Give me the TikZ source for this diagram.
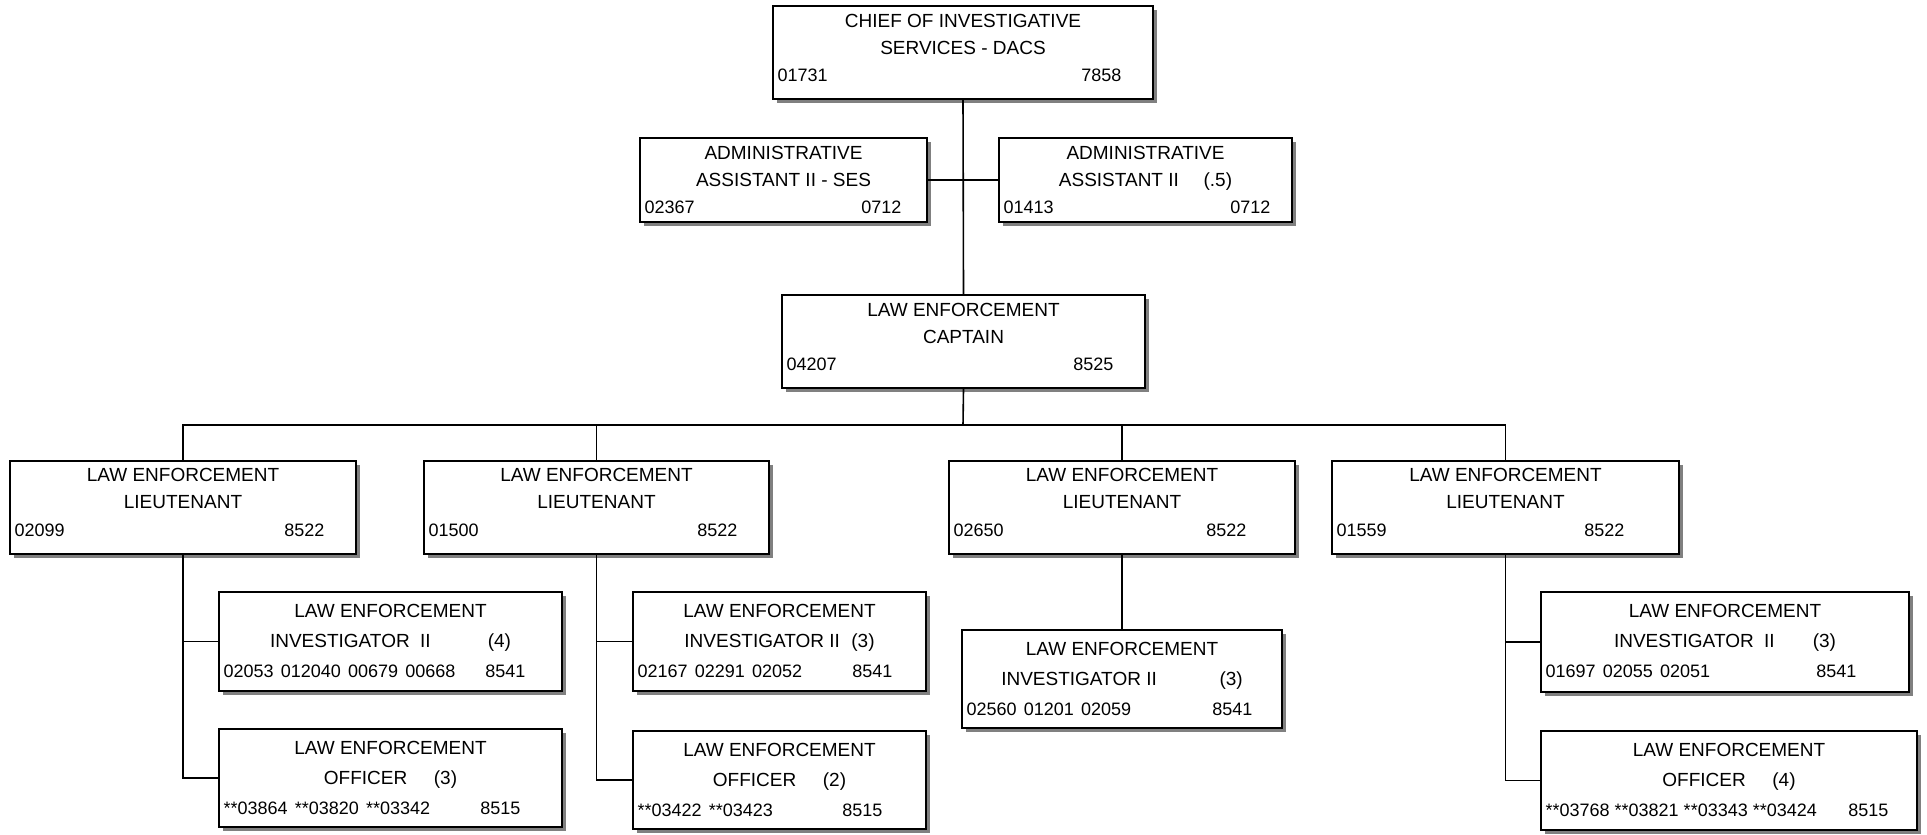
\documentclass[tikz,border=0pt]{standalone}
\usepackage{fontspec}
\setmainfont{Liberation Sans}
\usetikzlibrary{fit,shadows,calc}
\tikzset{
  boxst/.style={draw=black, line width=0.75pt, fill=white, inner sep=0pt,
    drop shadow={shadow xshift=2pt, shadow yshift=-2pt, fill=black!50, opacity=1}},
  ttl/.style={inner sep=0pt, font=\fontsize{9.5}{10}\selectfont, anchor=base},
  num/.style={inner sep=0pt, font=\fontsize{9}{10}\selectfont},
  conn/.style={line width=0.8pt, draw=black}
}
\newcommand\obox[7]{%
  \node[boxst, fit={(#2,#3)(#4,#5)}] (#1) {};
  \node[ttl] (#1-a) at ($(#1.north)+(0,\lA)$) {#6};
  \node[ttl] (#1-b) at ($(#1.north)+(0,\lB)$) {#7};
}
\newcommand\onum[4]{%
  \node[num, anchor=base west] (#1-l) at ($(#1.north west)+(5,\lC)$) {#2};
  \node[num, anchor=base east] (#1-r) at ($(#1.north east)+(-#4,\lC)$) {#3};
}
\newcommand\gp{\hspace{0.4em}}
\begin{document}
\begin{tikzpicture}[x=0.5pt,y=-0.5pt]
\useasboundingbox (0,0) rectangle (1927,835);
\def\lA{22}\def\lB{49}\def\lC{76}
\obox{chief}{773}{6}{1153}{99}{CHIEF OF INVESTIGATIVE}{SERVICES - DACS}
\onum{chief}{01731}{7858}{32}
\obox{adminL}{640}{138}{927}{222}{ADMINISTRATIVE}{ASSISTANT II - SES}
\onum{adminL}{02367}{0712}{26}
\obox{adminR}{999}{138}{1292}{222}{ADMINISTRATIVE}{ASSISTANT II\hspace{1.3em}(.5)}
\onum{adminR}{01413}{0712}{22}
\obox{capt}{782}{295}{1145}{388}{LAW ENFORCEMENT}{CAPTAIN}
\onum{capt}{04207}{8525}{32}
\def\lA{21}\def\lB{48}\def\lC{76}
\obox{L1}{10}{461}{356}{554}{LAW ENFORCEMENT}{LIEUTENANT}
\onum{L1}{02099}{8522}{32}
\obox{L2}{424}{461}{769}{554}{LAW ENFORCEMENT}{LIEUTENANT}
\onum{L2}{01500}{8522}{32}
\obox{L3}{949}{461}{1295}{554}{LAW ENFORCEMENT}{LIEUTENANT}
\onum{L3}{02650}{8522}{49}
\obox{L4}{1332}{461}{1679}{554}{LAW ENFORCEMENT}{LIEUTENANT}
\onum{L4}{01559}{8522}{55}
\def\lA{26}\def\lB{56}\def\lC{86}
\obox{inv1}{219}{592}{562}{691}{LAW ENFORCEMENT}{INVESTIGATOR\hspace{0.55em}II\hspace{3em}(4)}
\onum{inv1}{02053\gp012040\gp00679\gp00668}{8541}{37}
\obox{off1}{219}{729}{562}{827}{LAW ENFORCEMENT}{OFFICER\hspace{1.4em}(3)}
\onum{off1}{**03864\gp**03820\gp**03342}{8515}{42}
\obox{inv2}{633}{592}{926}{691}{LAW ENFORCEMENT}{INVESTIGATOR II\hspace{0.6em}(3)}
\onum{inv2}{02167\gp02291\gp02052}{8541}{34}
\obox{off2}{633}{731}{926}{829}{LAW ENFORCEMENT}{OFFICER\hspace{1.4em}(2)}
\onum{off2}{**03422\gp**03423}{8515}{44}
\obox{inv3}{962}{630}{1282}{728}{LAW ENFORCEMENT}{INVESTIGATOR II\hspace{3.3em}(3)}
\onum{inv3}{02560\gp01201\gp02059}{8541}{30}
\obox{inv4}{1541}{592}{1909}{692}{LAW ENFORCEMENT}{INVESTIGATOR\hspace{0.55em}II\hspace{2em}(3)}
\onum{inv4}{01697\gp02055\gp02051}{8541}{53}
\obox{off4}{1541}{731}{1917}{830}{LAW ENFORCEMENT}{OFFICER\hspace{1.4em}(4)}
\onum{off4}{**03768 **03821 **03343 **03424}{8515}{29}
% connectors
\coordinate (bus) at (963,425);
\draw[conn] (chief.south) -- (capt.north);
\draw[conn] (adminL.east) -- (adminR.west);
\draw[conn] (capt.south) -- (bus);
\draw[conn] (L1.north) |- (bus) -| (L4.north);
\draw[conn] (L2.north) -- (L2.north |- bus);
\draw[conn] (L3.north) -- (L3.north |- bus);
\draw[conn] (L1.south) |- (inv1.west);
\draw[conn] (L1.south) |- (off1.west);
\draw[conn] (L2.south) |- (inv2.west);
\draw[conn] (L2.south) |- (off2.west);
\draw[conn] (L3.south) -- (inv3.north);
\draw[conn] (L4.south) |- (inv4.west);
\draw[conn] (L4.south) |- (off4.west);
\end{tikzpicture}
\end{document}
